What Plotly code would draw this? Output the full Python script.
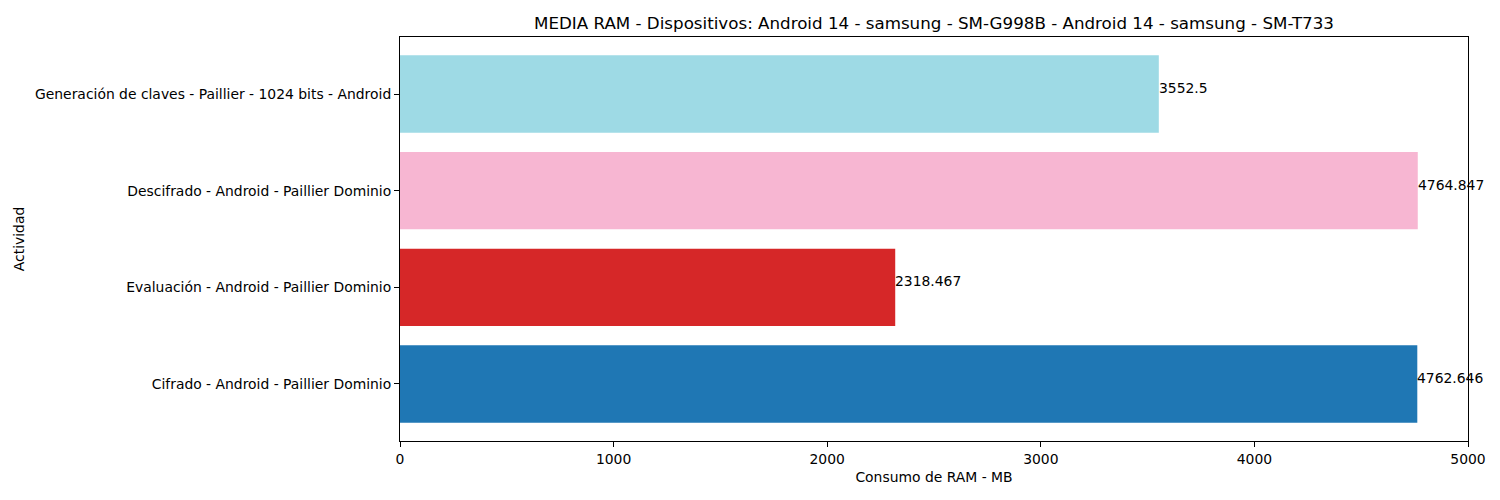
import plotly.graph_objects as go

categories = [
    "Cifrado - Android - Paillier Dominio",
    "Evaluación - Android - Paillier Dominio",
    "Descifrado - Android - Paillier Dominio",
    "Generación de claves - Paillier - 1024 bits - Android",
]
values = [4762.646, 2318.467, 4764.847, 3552.5]
value_labels = ["4762.646", "2318.467", "4764.847", "3552.5"]
bar_colors = ["#1f77b4", "#d62728", "#f7b6d2", "#9edae5"]
x_ticks = [0, 1000, 2000, 3000, 4000, 5000]

positions = list(range(len(categories)))
font = "DejaVu Sans"
fs = 13.9

fig = go.Figure()
fig.add_trace(go.Bar(
    x=values, y=positions, orientation="h", width=0.8,
    marker=dict(color=bar_colors, line=dict(width=0)),
    showlegend=False, hoverinfo="x+y",
))

for p, v, lab in zip(positions, values, value_labels):
    fig.add_annotation(
        x=v, y=p, text=lab,
        showarrow=False, xanchor="left", yanchor="bottom",
        xshift=-2, yshift=-4,
        font=dict(family=font, size=fs, color="black"),
    )

fig.update_layout(
    width=1500, height=500,
    margin=dict(l=400, r=32, t=37, b=59),
    paper_bgcolor="white", plot_bgcolor="white",
    font=dict(family=font, size=fs, color="black"),
    title=dict(
        text="MEDIA RAM - Dispositivos: Android 14 - samsung - SM-G998B - Android 14 - samsung - SM-T733",
        x=(400 + 1468) / 2 / 1500, xanchor="center", y=1 - 23 / 500, yanchor="middle",
        font=dict(family=font, size=16.7, color="black"),
    ),
    xaxis=dict(
        range=[0, 5000], tickvals=x_ticks, ticktext=[str(t) for t in x_ticks],
        showgrid=False, zeroline=False, showline=True, linecolor="black", linewidth=1,
        mirror=True, ticks="outside", ticklen=5, tickcolor="black",
        tickfont=dict(family=font, size=fs),
        title=dict(text="Consumo de RAM - MB", font=dict(family=font, size=fs), standoff=6),
    ),
    yaxis=dict(
        range=[-0.59, 3.59], tickvals=positions, ticktext=categories,
        showgrid=False, zeroline=False, showline=True, linecolor="black", linewidth=1,
        mirror=True, ticks="outside", ticklen=5, tickcolor="black",
        tickfont=dict(family=font, size=fs),
        title=dict(text="Actividad", font=dict(family=font, size=fs), standoff=7),
    ),
)

fig.write_html("out.html")
